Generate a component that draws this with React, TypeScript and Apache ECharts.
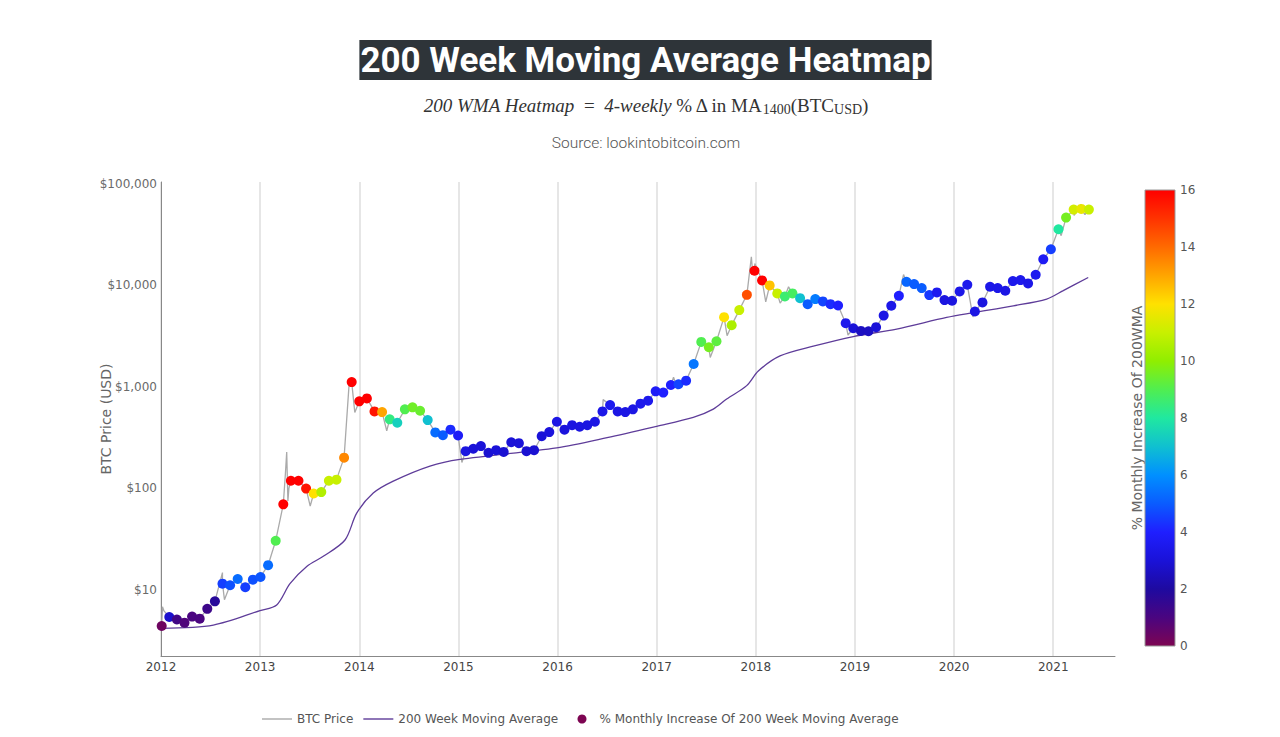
import React, { useEffect, useRef } from "react";
import * as echarts from "echarts";

// ---- Data ----
// 4-weekly dots: first dot in early Jan 2012, one every 4 weeks
const DOT_START_YEAR = 2012.007;
const DOT_STEP_WEEKS = 4;
const DOT_PRICES = [
  4.4, 5.4, 5.1, 4.75, 5.45, 5.2, 6.5, 7.7, 11.5, 11.1,
  12.8, 10.6, 12.6, 13.4, 17.5, 30.5, 69.6, 119, 119, 99.5,
  89, 92, 119, 122, 201, 1117, 721, 771, 574, 565,
  479, 444, 601, 629, 583, 471, 356, 335, 379, 332,
  233, 246, 261, 224, 238, 229, 285, 279, 233, 238,
  327, 359, 454, 379, 420, 405, 420, 454, 574, 662,
  574, 565, 601, 684, 733, 905, 879, 1045, 1062, 1154,
  1683, 2779, 2462, 2818, 4875, 4064, 5719, 8090, 13970, 11220,
  10020, 8350, 7800, 8350, 7500, 6545, 7345, 6965, 6545, 6355,
  4250, 3790, 3565, 3540, 3880, 5050, 6310, 7910, 10870, 10320,
  9420, 8035, 8545, 7180, 7065, 8745, 10160, 5545, 6810, 9710,
  9420, 8865, 11040, 11300, 10490, 12760, 18110, 22750, 35810, 46660,
  55980, 56880, 55980,
];
const DOT_PCT = [
  0.3, 2.8, 1.2, 0.9, 1.0, 1.0, 1.3, 1.8, 4.5, 4.8,
  5.3, 4.5, 4.8, 4.9, 5.3, 9.0, 16, 16, 16, 15.6,
  12.0, 10.6, 11.0, 11.0, 13.5, 16, 16, 16, 15.6, 13.0,
  8.4, 7.4, 9.0, 9.5, 9.4, 7.0, 5.3, 5.0, 4.2, 3.8,
  3.2, 3.0, 3.0, 2.9, 3.0, 2.9, 3.0, 3.0, 2.9, 2.9,
  3.0, 3.1, 3.3, 3.1, 3.2, 3.2, 3.2, 3.3, 3.4, 3.6,
  3.3, 3.3, 3.3, 3.5, 3.5, 3.8, 4.0, 4.0, 4.6, 4.2,
  5.5, 9.0, 9.6, 9.2, 12.0, 10.5, 11.0, 14.5, 16, 16,
  12.5, 11.0, 8.6, 8.8, 7.0, 5.0, 5.6, 4.6, 4.2, 4.0,
  3.5, 3.0, 2.6, 2.6, 3.0, 3.3, 3.4, 4.0, 5.2, 5.0,
  5.0, 4.4, 3.6, 3.2, 3.2, 3.4, 3.5, 3.3, 3.2, 3.4,
  3.4, 3.3, 3.5, 3.5, 3.4, 3.6, 3.7, 4.5, 8.0, 9.6,
  11.2, 11.6, 11.0,
];

// extra BTC price detail between the dots (spikes and dips)
const PRICE_EXTRA_YEARS = [
  2012.015, 2012.03, 2012.62, 2012.64, 2013.255, 2013.268, 2013.28, 2013.29,
  2013.505, 2013.9, 2013.955, 2014.277, 2015.035, 2016.46, 2017.17, 2017.21,
  2017.54, 2017.71, 2017.955, 2017.965, 2017.99, 2018.10, 2018.245, 2018.33,
  2018.93, 2019.49, 2020.19, 2021.08, 2021.21, 2021.28, 2021.32,
];
const PRICE_EXTRA_VALUES = [
  6.8, 6.2, 14.8, 8.0, 140, 228, 75, 100,
  67, 1160, 560, 370, 180, 750, 1250, 950,
  1950, 3200, 19200, 14500, 16500, 6900, 6700, 9700,
  3250, 12800, 4900, 31000, 49000, 63000, 50000,
];

// 200 week moving average
const WMA_YEARS = [
  2012.007, 2012.528, 2012.999, 2013.167, 2013.301, 2013.47, 2013.637, 2013.856,
  2013.974, 2014.141, 2014.343, 2014.713, 2015.016, 2015.991, 2016.5, 2017.0,
  2017.369, 2017.571, 2017.706, 2017.908, 2018.025, 2018.244, 2018.58, 2018.983,
  2019.421, 2019.925, 2020.193, 2020.597, 2020.934, 2021.101, 2021.353,
];
const WMA_VALUES = [
  4.18, 4.5, 6.25, 7.1, 11.5, 17, 21.4, 31,
  57, 90, 118, 166, 193, 251, 316, 409,
  500, 604, 760, 1030, 1435, 2020, 2520, 3140,
  3720, 4840, 5390, 6300, 7350, 8900, 12000,
];

const X_TICKS = [2012, 2013, 2014, 2015, 2016, 2017, 2018, 2019, 2020, 2021];
const Y_TICKS = [10, 100, 1000, 10000, 100000];
const COLORBAR_COLORS = [
  "#7d0552", "#4a0580", "#1e0aa0", "#1a12d8", "#1f1fff", "#0a5cff", "#0090ff",
  "#10c0d0", "#20e8a0", "#50ee50", "#90ee00", "#c8f000", "#ffe100", "#ffa500",
  "#ff6a00", "#ff3300", "#ff0000",
];

const L = Math.log10;
const LINE_ICON = "path://M0,0 L30,0 L30,1.4 L0,1.4 Z";

export default function App() {
  const ref = useRef<HTMLDivElement>(null);
  useEffect(() => {
    document.body.style.margin = "0";
    const chart = echarts.init(ref.current!, null, { renderer: "svg" });

    const dotYears = DOT_PRICES.map((_, i) => DOT_START_YEAR + (i * DOT_STEP_WEEKS * 7) / 365.25);
    const dots = DOT_PRICES.map((p, i) => [dotYears[i], L(p), DOT_PCT[i]]);
    const priceLine = [
      ...DOT_PRICES.map((p, i) => [dotYears[i], p]),
      ...PRICE_EXTRA_YEARS.map((y, i) => [y, PRICE_EXTRA_VALUES[i]]),
    ]
      .sort((a, b) => a[0] - b[0])
      .map((d) => [d[0], L(d[1])]);
    const wma = WMA_YEARS.map((y, i) => [y, L(WMA_VALUES[i])]);

    const axisFont = "DejaVu Sans";
    const gradStops = COLORBAR_COLORS.map((c, i) => ({
      offset: 1 - i / (COLORBAR_COLORS.length - 1),
      color: c,
    })).reverse();
    const legendText = { color: "#555", fontSize: 12, fontFamily: axisFont };

    chart.setOption({
      animation: false,
      backgroundColor: "#fff",
      grid: [
        { left: 161, top: 182, right: 165, bottom: 81 },
        { left: 1145, top: 190, width: 30, height: 456 },
      ],
      xAxis: [
        {
          type: "value",
          min: 2012,
          max: 2021.623,
          axisLine: { show: true, lineStyle: { color: "#888", width: 1 } },
          axisTick: { show: false, customValues: X_TICKS },
          axisLabel: {
            customValues: X_TICKS,
            color: "#444",
            fontSize: 12,
            fontFamily: axisFont,
            margin: 5,
            formatter: (v: number) => String(Math.round(v)),
          },
          splitLine: { show: true, lineStyle: { color: "#dedede", width: 1.5 } },
        },
        { gridIndex: 1, type: "value", show: false, min: 0, max: 1 },
      ],
      yAxis: [
        {
          type: "value",
          min: 0.348,
          max: 5.02,
          axisLine: { show: true, lineStyle: { color: "#888", width: 1 } },
          axisTick: { show: false, customValues: Y_TICKS.map(L) },
          splitLine: { show: false },
          axisLabel: {
            customValues: Y_TICKS.map(L),
            color: "#6a6a6a",
            fontSize: 12,
            fontFamily: axisFont,
            margin: 4,
            formatter: (v: number) => "$" + Math.round(Math.pow(10, v)).toLocaleString("en-US"),
          },
          name: "BTC Price (USD)",
          nameLocation: "middle",
          nameGap: 48,
          nameMoveOverlap: false,
          nameTextStyle: { color: "#666", fontSize: 14, fontFamily: axisFont },
        },
        {
          gridIndex: 1,
          type: "value",
          position: "right",
          min: 0,
          max: 16,
          interval: 2,
          axisLine: { show: false },
          axisTick: { show: false },
          splitLine: { show: false },
          axisLabel: { color: "#555", fontSize: 12, fontFamily: axisFont, margin: 5 },
        },
      ],
      visualMap: {
        show: false,
        type: "continuous",
        seriesIndex: 2,
        dimension: 2,
        min: 0,
        max: 16,
        inRange: { color: COLORBAR_COLORS },
      },
      legend: [
        {
          left: 262,
          top: 713,
          padding: 0,
          itemWidth: 30,
          itemHeight: 9,
          itemGap: 10,
          data: [
            { name: "BTC Price", icon: LINE_ICON },
            { name: "200 Week Moving Average", icon: LINE_ICON },
          ],
          textStyle: legendText,
        },
        {
          left: 577.5,
          top: 713,
          padding: 0,
          itemWidth: 25,
          itemHeight: 9,
          data: [{ name: "% Monthly Increase Of 200 Week Moving Average", icon: "circle" }],
          textStyle: legendText,
        },
      ],
      graphic: [
        {
          type: "text",
          x: 645.5,
          y: 60,
          style: {
            text: "200 Week Moving Average Heatmap",
            align: "center",
            verticalAlign: "middle",
            fontFamily: "Roboto",
            fontWeight: "bold",
            fontSize: 35,
            lineHeight: 36,
            fill: "#fff",
            backgroundColor: "#2e3439",
            padding: [2, 1, 2, 1],
          },
        },
        {
          type: "text",
          x: 646,
          y: 105,
          style: {
            text: "{it|200 WMA Heatmap}{n|  =  }{it|4-weekly} {n|% Δ in MA}{sub|1400}{n|(BTC}{sub|USD}{n|)}",
            align: "center",
            verticalAlign: "middle",
            rich: {
              it: { fontFamily: "Liberation Serif", fontStyle: "italic", fontSize: 19, fill: "#333", lineHeight: 22 },
              n: { fontFamily: "Liberation Serif", fontSize: 19, fill: "#333", lineHeight: 22 },
              sub: { fontFamily: "Liberation Serif", fontSize: 14, fill: "#333", lineHeight: 22, verticalAlign: "bottom" },
            },
          },
        },
        {
          type: "text",
          x: 646,
          y: 143,
          style: {
            text: "Source: lookintobitcoin.com",
            align: "center",
            verticalAlign: "middle",
            fontFamily: "Roboto",
            fontWeight: 300,
            fontSize: 15.5,
            fill: "#555",
          },
        },
        {
          type: "rect",
          shape: { x: 1145, y: 190, width: 30, height: 456 },
          style: {
            fill: { type: "linear", x: 0, y: 0, x2: 0, y2: 1, colorStops: gradStops },
            stroke: "#999",
            lineWidth: 1,
          },
          z: 10,
        },
        {
          type: "text",
          x: 1137,
          y: 418,
          rotation: Math.PI / 2,
          style: {
            text: "% Monthly Increase Of 200WMA",
            align: "center",
            verticalAlign: "middle",
            fontFamily: axisFont,
            fontSize: 14,
            fill: "#666",
          },
        },
      ],
      series: [
        {
          name: "BTC Price",
          type: "line",
          data: priceLine,
          symbol: "none",
          showSymbol: false,
          lineStyle: { color: "#aaaaaa", width: 1.3 },
          itemStyle: { color: "#aaaaaa" },
          z: 2,
        },
        {
          name: "200 Week Moving Average",
          type: "line",
          data: wma,
          symbol: "none",
          showSymbol: false,
          smooth: 0.3,
          lineStyle: { color: "#5e3c99", width: 1.3 },
          itemStyle: { color: "#5e3c99" },
          z: 3,
        },
        {
          name: "% Monthly Increase Of 200 Week Moving Average",
          type: "scatter",
          data: dots,
          symbolSize: 10,
          itemStyle: { color: "#7d0552", opacity: 1 },
          z: 4,
        },
        {
          name: "cb",
          type: "scatter",
          xAxisIndex: 1,
          yAxisIndex: 1,
          data: [],
        },
      ],
    });
    return () => chart.dispose();
  }, []);
  return <div ref={ref} style={{ width: 1280, height: 737 }} />;
}
